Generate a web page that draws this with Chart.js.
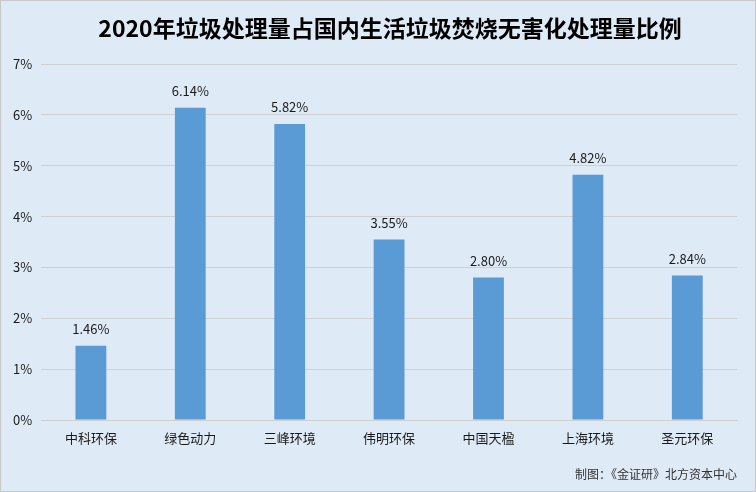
<!DOCTYPE html>
<html>
<head>
<meta charset="utf-8">
<script src="https://cdn.jsdelivr.net/npm/chart.js@4/dist/chart.umd.min.js"></script>
<style>
  html, body { margin: 0; padding: 0; background: #fff; }
  #wrap { width: 756px; height: 492px; position: relative; }
</style>
</head>
<body>
<div id="wrap"><canvas id="chart" width="756" height="492"></canvas></div>
<script>
// ===== data =====
const companies = ["中科环保", "绿色动力", "三峰环境", "伟明环保", "中国天楹", "上海环境", "圣元环保"];
const ratios = [1.46, 6.14, 5.82, 3.55, 2.80, 4.82, 2.84];
const chartTitle = "2020年垃圾处理量占国内生活垃圾焚烧无害化处理量比例";
const sourceNote = "制图：《金证研》北方资本中心";

const FONT = "'Noto Sans CJK SC', 'Noto Sans', sans-serif";

// background, border and title (title sits a bit right of centre in the original)
const bgPlugin = {
  id: "bg",
  beforeDraw(chart) {
    const c = chart.ctx;
    c.save();
    c.fillStyle = "#DEEAF6";
    c.fillRect(0, 0, chart.width, chart.height);
    c.strokeStyle = "#C9C9C9";
    c.lineWidth = 1;
    c.strokeRect(0.5, 0.5, chart.width - 1, chart.height - 1);
    c.fillStyle = "#000";
    c.font = "bold 23px " + FONT;
    c.textAlign = "center";
    c.textBaseline = "middle";
    c.fillText(chartTitle, 390, 28);
    c.restore();
  }
};

// value labels over bars
const valueLabels = {
  id: "valueLabels",
  afterDatasetsDraw(chart) {
    const c = chart.ctx;
    const meta = chart.getDatasetMeta(0);
    c.save();
    c.font = "13px " + FONT;
    c.fillStyle = "#1a1a1a";
    c.textAlign = "center";
    c.textBaseline = "bottom";
    meta.data.forEach((bar, i) => {
      c.fillText(ratios[i].toFixed(2) + "%", bar.x, bar.y - 10);
    });
    c.restore();
  }
};

new Chart(document.getElementById("chart"), {
  type: "bar",
  data: {
    labels: companies,
    datasets: [{
      data: ratios,
      backgroundColor: "#5B9BD5",
      categoryPercentage: 1,
      barPercentage: 0.31
    }]
  },
  options: {
    responsive: false,
    animation: false,
    layout: { padding: { left: 4, right: 19, top: 64, bottom: 6 } },
    plugins: {
      legend: { display: false },
      tooltip: { enabled: false },
      title: { display: false },
      subtitle: {
        display: true,
        position: "bottom",
        align: "end",
        text: sourceNote,
        color: "#333",
        font: { family: FONT, size: 12 },
        padding: { top: 20, bottom: 4 }
      }
    },
    scales: {
      x: {
        grid: { display: false },
        border: { color: "#D0D0D0" },
        ticks: { color: "#1a1a1a", font: { family: FONT, size: 13 }, padding: 2 }
      },
      y: {
        min: 0,
        max: 7,
        ticks: {
          stepSize: 1,
          color: "#1a1a1a",
          font: { family: FONT, size: 13 },
          padding: 9,
          callback: v => v + "%"
        },
        grid: { color: "#D0D0D0", drawTicks: false },
        border: { display: false }
      }
    }
  },
  plugins: [bgPlugin, valueLabels]
});
</script>
</body>
</html>
